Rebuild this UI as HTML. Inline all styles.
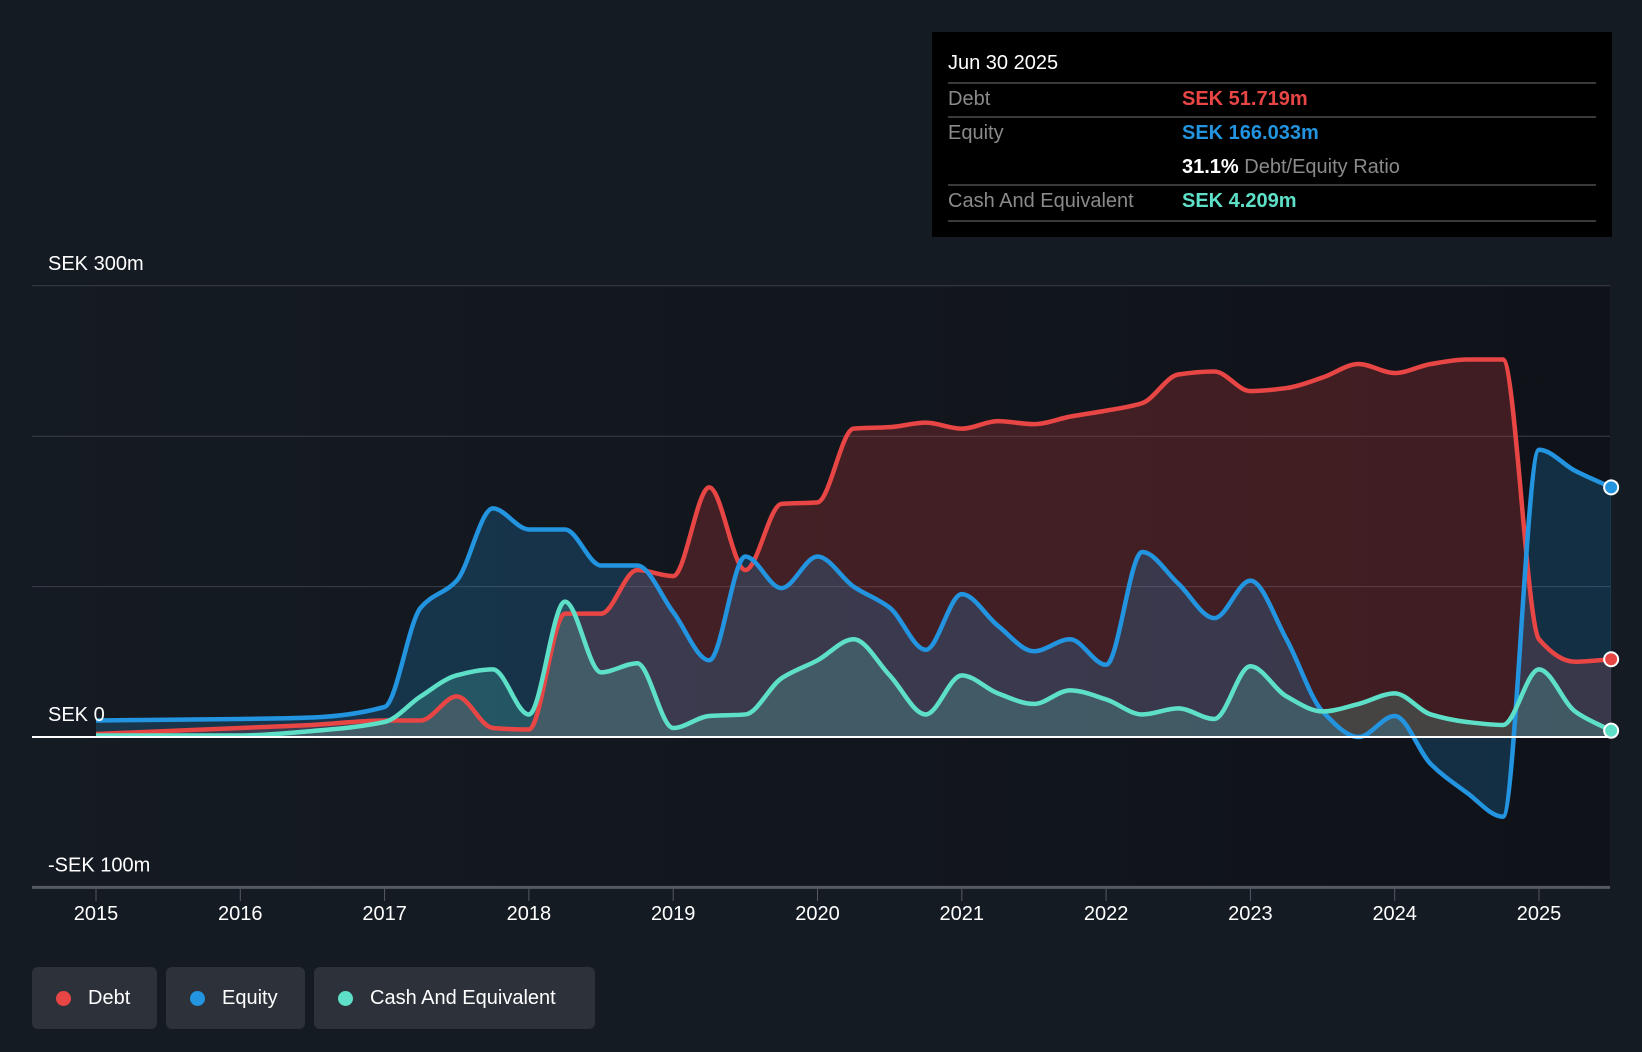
<!DOCTYPE html>
<html><head><meta charset="utf-8"><style>
body{margin:0;background:#151b23;width:1642px;height:1052px;overflow:hidden;font-family:"Liberation Sans",sans-serif;}
#tip{position:absolute;left:932px;top:32px;width:680px;height:205px;background:#000;}
#tip .row{position:absolute;left:16px;width:648px;border-top:2px solid #3a3a3a;}
#tip span{position:absolute;font-size:20px;}
.leg{position:absolute;top:967px;height:62px;background:#2c313a;border-radius:6px;color:#fff;font-size:20px;line-height:62px;}
.leg i{position:absolute;left:24px;top:24px;width:15px;height:15px;border-radius:50%;}
.leg b{font-weight:normal;position:absolute;left:56px;}
</style></head><body>
<svg id="chart" width="1642" height="1052" style="position:absolute;left:0;top:0">
<defs><linearGradient id="bg" x1="0" x2="1"><stop offset="0" stop-color="#151b23"/><stop offset="1" stop-color="#0f1218"/></linearGradient></defs>
<rect x="32" y="286" width="1578" height="601" fill="url(#bg)"/>
<g id="grid"></g><g id="areas"></g><g id="lines"></g><g id="axis"></g>
</svg>
<div id="tip">
<span style="left:16px;top:20px;color:#fff">Jun 30 2025</span>
<div class="row" style="top:50px"></div>
<span style="left:16px;top:56px;color:#8a8a8a">Debt</span><span style="left:250px;top:56px;color:#e84545;font-weight:bold">SEK 51.719m</span>
<div class="row" style="top:84px"></div>
<span style="left:16px;top:90px;color:#8a8a8a">Equity</span><span style="left:250px;top:90px;color:#2394df;font-weight:bold">SEK 166.033m</span>
<span style="left:250px;top:124px;color:#fff;font-weight:bold">31.1% <span style="position:static;color:#8a8a8a;font-weight:normal">Debt/Equity Ratio</span></span>
<div class="row" style="top:152px"></div>
<span style="left:16px;top:158px;color:#8a8a8a">Cash And Equivalent</span><span style="left:250px;top:158px;color:#5ee0c8;font-weight:bold">SEK 4.209m</span>
<div class="row" style="top:188px"></div>
</div>
<div class="leg" style="left:32px;width:125px"><i style="background:#e84545"></i><b>Debt</b></div>
<div class="leg" style="left:166px;width:139px"><i style="background:#2394df"></i><b>Equity</b></div>
<div class="leg" style="left:314px;width:281px"><i style="background:#5ee0c8"></i><b>Cash And Equivalent</b></div>
<script>
const times=[2015,2016,2016.5,2017,2017.25,2017.5,2017.75,2018,2018.25,2018.5,2018.75,2019,2019.25,2019.5,2019.75,2020,2020.25,2020.5,2020.75,2021,2021.25,2021.5,2021.75,2022,2022.25,2022.5,2022.75,2023,2023.25,2023.5,2023.75,2024,2024.25,2024.5,2024.75,2025,2025.25,2025.5];
const debt=[2,6,8,11,11,27,6,5,82,82,111,107,166,111,155,156,205,206,209,205,210,208,213,217,222,241,243,230,232,239,248,242,248,251,251,65,50,51.7];
const equity=[11,12,13,20,86,104,152,138,138,114,114,83,51,120,99,120,100,86,58,95,74,57,65,48,123,102,79,104,65,17,0,14,-18,-37,-53,191,177,166];
const cash=[1,1,4,10,27,41,45,15,90,43,49,6,14,15,39,51,65,41,15,41,29,22,31,25,15,19,12,47,27,17,22,29,15,10,8,45,17,4.2];
const yearTicks=[2015,2016,2017,2018,2019,2020,2021,2022,2023,2024,2025];
const yTicks=[-100,0,100,200,300];
const yLabels={"300":"SEK 300m","0":"SEK 0","-100":"-SEK 100m"};
const X=t=>96+(t-2015)*144.3, Y=v=>737-v*1.504;
const NS="http://www.w3.org/2000/svg";
function mk(tag,attrs,parent){const e=document.createElementNS(NS,tag);for(const k in attrs)e.setAttribute(k,attrs[k]);document.getElementById(parent).appendChild(e);return e;}
function path(vals){const p=vals.map((v,i)=>[X(times[i]),Y(v)]);const n=p.length;const m=[];
for(let i=0;i<n;i++){let d0=i>0?(p[i][1]-p[i-1][1])/(p[i][0]-p[i-1][0]):null,d1=i<n-1?(p[i+1][1]-p[i][1])/(p[i+1][0]-p[i][0]):null;
let s;if(d0===null)s=d1;else if(d1===null)s=d0;else if(d0*d1<=0)s=0;else s=2*d0*d1/(d0+d1);m.push(s);}
let d="M"+p[0][0]+","+p[0][1];for(let i=0;i<n-1;i++){const h=(p[i+1][0]-p[i][0])/3;d+=` C${p[i][0]+h},${p[i][1]+m[i]*h} ${p[i+1][0]-h},${p[i+1][1]-m[i+1]*h} ${p[i+1][0]},${p[i+1][1]}`;}return d;}
yTicks.forEach(v=>{const g=mk('line',{x1:32,x2:1610,y1:Y(v),y2:Y(v),stroke:v==-100?'#555a62':'#3a3f48','stroke-width':v==-100?3:1},'grid');


if(yLabels[v]){const t=mk('text',{x:48,y:Y(v)-16,fill:'#fff','font-size':20},'axis');t.textContent=yLabels[v];

}});
yearTicks.forEach(y=>{const l=mk('line',{x1:X(y),x2:X(y),y1:889,y2:901,stroke:'#555a62','stroke-width':1},'axis');


const t=mk('text',{x:X(y),y:920,fill:'#fff','font-size':20,'text-anchor':'middle'},'axis');t.textContent=y;

});
const series=[[debt,'#e84545','#c0393b',0.28,'debt'],[equity,'#2394df','#2394df',0.22,'equity'],[cash,'#5ee0c8','#5ee0c8',0.2,'cash']];
series.forEach(([vals,c,fc,op,nm])=>{const d=path(vals);const x0=X(times[0]),x1=X(times[times.length-1]);
const a=mk('path',{d:d+` L${x1},${Y(0)} L${x0},${Y(0)} Z`,fill:fc,'fill-opacity':op},'areas');


const l=mk('path',{d:d,fill:'none',stroke:c,'stroke-width':4.5,'stroke-linejoin':'round'},'lines');

});
const z=mk('line',{x1:32,x2:1610,y1:Y(0),y2:Y(0),stroke:'#fff','stroke-width':2},'lines');


series.forEach(([vals,c,fc,op,nm])=>{const dt=mk('circle',{cx:X(times[times.length-1]),cy:Y(vals[vals.length-1]),r:7,fill:c,stroke:'#fff','stroke-width':2},'lines');

});
</script>
</body></html>
